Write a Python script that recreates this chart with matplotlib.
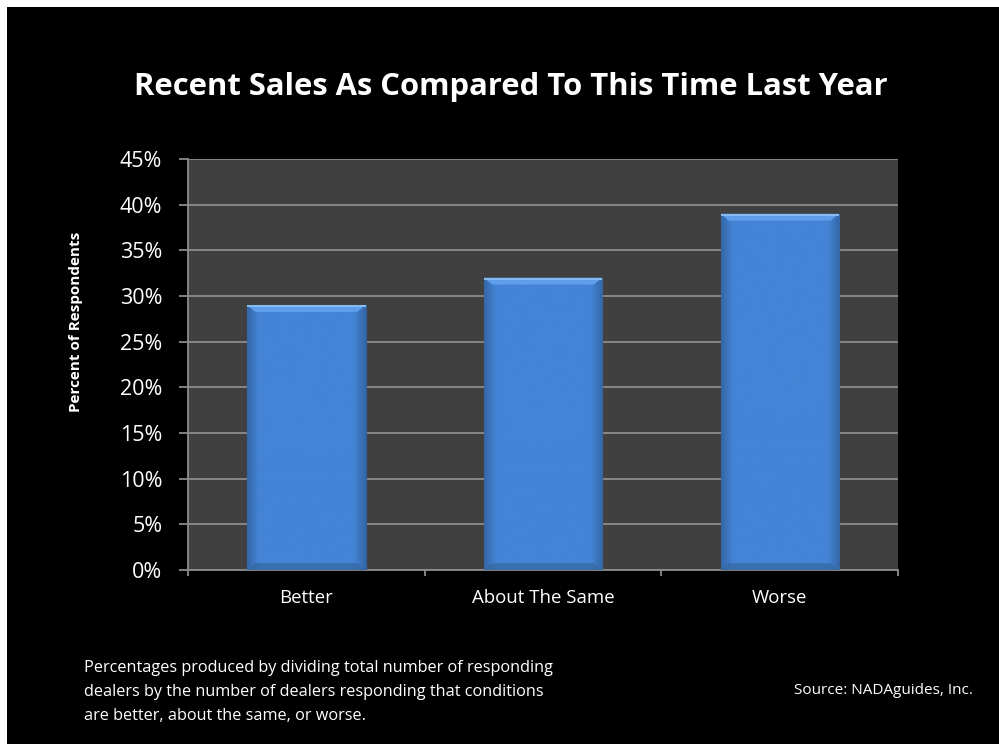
import matplotlib
matplotlib.use("Agg")
import matplotlib.pyplot as plt
import numpy as np
from matplotlib.patches import Rectangle, Polygon
from matplotlib.ticker import PercentFormatter

categories = ["Better", "About The Same", "Worse"]
values = [29, 32, 39]
yticks = [0, 5, 10, 15, 20, 25, 30, 35, 40, 45]

title = "Recent Sales As Compared To This Time Last Year"
ylabel = "Percent of Respondents"
footnote = ("Percentages produced by dividing total number of responding\n"
            "dealers by the number of dealers responding that conditions\n"
            "are better, about the same, or worse.")
source = "Source: NADAguides, Inc."

FONT = ["Open Sans", "DejaVu Sans"]
plt.rcParams["font.family"] = FONT

fig = plt.figure(figsize=(9.99, 7.44), dpi=100, facecolor="black")
# thin white margin on left/top like the reference
fig.patches.append(Rectangle((0, 0), 7 / 999, 1, transform=fig.transFigure,
                             facecolor="white", edgecolor="none", zorder=-10))
fig.patches.append(Rectangle((0, 1 - 7 / 744), 1, 7 / 744, transform=fig.transFigure,
                             facecolor="white", edgecolor="none", zorder=-10))

ax = fig.add_axes([188 / 999, 1 - 570 / 744, 710 / 999, 411 / 744])
ax.set_zorder(1)
ax.set_facecolor("#404040")

x = np.arange(len(categories))
BAR_COLOR = "#4282D4"
bars = ax.bar(x, values, width=0.5, color=BAR_COLOR, edgecolor="#2F5F9F",
              linewidth=0.8, zorder=3)

# horizontal shading on bars: lighter centre, darker edges
t = np.linspace(0, 1, 256)
shade = np.clip(1.0 - 0.9 * np.clip(np.abs(t - 0.5) - 0.40, 0, None) * 2.5, 0, 1)
base = np.array([0x44, 0x84, 0xD6]) / 255
img = np.ones((1, 256, 4))
img[0, :, :3] = base[None, :] * shade[:, None]
for b in bars:
    x0, y0 = b.get_x(), b.get_y()
    w, h = b.get_width(), b.get_height()
    im = ax.imshow(img, extent=[x0, x0 + w, y0, y0 + h], aspect="auto", zorder=3.5,
                   interpolation="bicubic")
    im.set_clip_path(b)
    # bevel on top: lighter trapezoid
    bh = 0.75
    inset = 0.035
    ax.add_patch(Polygon([(x0, y0 + h), (x0 + w, y0 + h), (x0 + w - inset, y0 + h - bh),
                          (x0 + inset, y0 + h - bh)], closed=True,
                         facecolor="#5F9EEA", edgecolor="none", zorder=4))
    ax.add_patch(Rectangle((x0, y0 + h - 0.2), w, 0.2, facecolor="#86BBF2",
                           edgecolor="none", zorder=4.1))
    # bevel at bottom: darker trapezoid
    ax.add_patch(Polygon([(x0, y0), (x0 + w, y0), (x0 + w - inset, y0 + bh),
                          (x0 + inset, y0 + bh)], closed=True,
                         facecolor="#34689F", edgecolor="none", zorder=4, alpha=0.7))

ax.set_xlim(-0.5, len(categories) - 0.5)
ax.set_ylim(0, 45)
ax.set_yticks(yticks)
ax.yaxis.set_major_formatter(PercentFormatter(decimals=0))
ax.yaxis.grid(True, color="#8C8C8C", linewidth=1.3, zorder=1)
ax.set_axisbelow(True)

ax.set_xticks(x)
ax.set_xticklabels(categories)
ax.set_xticks(np.arange(len(categories) + 1) - 0.5, minor=True)
ax.tick_params(axis="x", which="major", length=0, pad=13.5, labelsize=13.4, labelcolor="white")
ax.tick_params(axis="x", which="minor", length=4.5, width=1.3, color="#8C8C8C")
ax.tick_params(axis="y", length=6.5, width=1.3, color="#8C8C8C", labelsize=15.5,
               labelcolor="white", pad=12)

for side in ["top", "right"]:
    ax.spines[side].set_visible(False)
for side in ["left", "bottom"]:
    ax.spines[side].set_color("#8C8C8C")
    ax.spines[side].set_linewidth(1.3)

fig.text(76 / 999, 1 - 322 / 744, ylabel, rotation=90, ha="center", va="center",
         color="white", fontsize=11, fontweight="bold")

fig.text(511 / 999, 1 - 87 / 744, title, ha="center", va="center", color="white",
         fontsize=22.3, fontweight="bold")

fig.text(84 / 999, 1 - 692 / 744, footnote, ha="left", va="center", color="white",
         fontsize=11.7, linespacing=1.65)
fig.text(973 / 999, 1 - 690 / 744, source, ha="right", va="center", color="white",
         fontsize=11)

fig.savefig("out.png", dpi=100, facecolor=fig.get_facecolor())
